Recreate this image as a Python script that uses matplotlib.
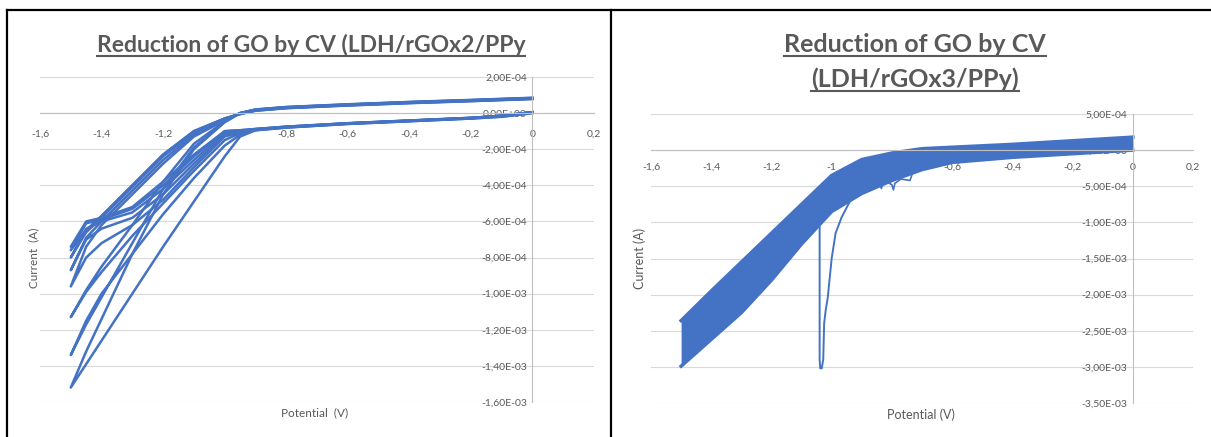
import matplotlib
matplotlib.use("Agg")
import matplotlib.pyplot as plt
import numpy as np
from matplotlib.lines import Line2D
from matplotlib.ticker import FuncFormatter, MultipleLocator

# ---- left chart: LDH/rGOx2/PPy, currents in mA ----
pot_left = [0.0, -0.1, -0.2, -0.4, -0.6, -0.8, -0.9, -0.95, -1.0, -1.1, -1.2, -1.3, -1.4, -1.45, -1.5]

# cathodic sweeps (0 -> -1.5 V), one row per cycle
fwd_left = [
    [0.0, -0.02, -0.03, -0.045, -0.06, -0.08, -0.095, -0.13, -0.24, -0.49, -0.74, -1.00, -1.26, -1.39, -1.52],
    [0.0, -0.02, -0.03, -0.045, -0.06, -0.08, -0.095, -0.12, -0.18, -0.36, -0.56, -0.78, -1.00, -1.15, -1.34],
    [0.005, -0.015, -0.028, -0.043, -0.058, -0.078, -0.093, -0.11, -0.15, -0.32, -0.50, -0.68, -0.88, -0.99, -1.13],
    [0.005, -0.015, -0.028, -0.043, -0.058, -0.078, -0.092, -0.105, -0.13, -0.30, -0.48, -0.62, -0.72, -0.80, -0.96],
    [0.005, -0.015, -0.027, -0.042, -0.057, -0.077, -0.090, -0.10, -0.12, -0.28, -0.45, -0.58, -0.64, -0.70, -0.87],
    [0.005, -0.015, -0.027, -0.042, -0.057, -0.076, -0.089, -0.10, -0.11, -0.26, -0.42, -0.55, -0.60, -0.64, -0.80],
    [0.005, -0.015, -0.026, -0.041, -0.056, -0.075, -0.088, -0.095, -0.10, -0.24, -0.40, -0.53, -0.59, -0.61, -0.76],
    [0.005, -0.015, -0.026, -0.041, -0.056, -0.075, -0.088, -0.095, -0.10, -0.23, -0.38, -0.52, -0.58, -0.60, -0.74],
]
# anodic return sweeps, listed on the same potential grid (0 -> -1.5 V)
rev_left = [
    [0.085, 0.079, 0.073, 0.062, 0.049, 0.034, 0.020, 0.0, -0.05, -0.20, -0.45, -0.78, -1.14, -1.32, -1.52],
    [0.084, 0.078, 0.072, 0.061, 0.048, 0.033, 0.020, 0.0, -0.05, -0.19, -0.42, -0.72, -1.02, -1.17, -1.34],
    [0.083, 0.077, 0.071, 0.060, 0.047, 0.032, 0.018, 0.0, -0.045, -0.17, -0.38, -0.62, -0.85, -0.98, -1.13],
    [0.082, 0.076, 0.070, 0.059, 0.046, 0.031, 0.017, 0.0, -0.04, -0.13, -0.28, -0.45, -0.62, -0.74, -0.96],
    [0.081, 0.075, 0.069, 0.058, 0.045, 0.030, 0.016, -0.002, -0.035, -0.12, -0.26, -0.43, -0.60, -0.69, -0.87],
    [0.080, 0.074, 0.068, 0.057, 0.044, 0.029, 0.015, -0.004, -0.03, -0.11, -0.24, -0.41, -0.58, -0.66, -0.80],
    [0.079, 0.073, 0.067, 0.056, 0.043, 0.028, 0.014, -0.005, -0.03, -0.10, -0.23, -0.40, -0.57, -0.65, -0.76],
    [0.078, 0.072, 0.066, 0.055, 0.042, 0.027, 0.013, -0.006, -0.03, -0.10, -0.23, -0.40, -0.57, -0.65, -0.74],
]

# ---- right chart: LDH/rGOx3/PPy, band of overlapping cycles, mA ----
pot_right = [0.0, -0.2, -0.4, -0.6, -0.7, -0.8, -0.9, -1.0, -1.1, -1.2, -1.3, -1.4, -1.5]
band_upper = [0.18, 0.13, 0.08, 0.04, 0.02, -0.04, -0.13, -0.35, -0.75, -1.15, -1.55, -1.95, -2.36]
band_lower = [0.0, -0.05, -0.10, -0.17, -0.27, -0.42, -0.60, -0.85, -1.30, -1.80, -2.25, -2.62, -2.99]

spike_pot = [-1.04, -1.04, -1.038, -1.033, -1.028, -1.025, -1.02, -1.013, -1.0, -0.987, -0.967, -0.937]
spike_cur = [-1.0, -2.9, -3.02, -3.02, -2.9, -2.4, -2.22, -2.04, -1.5, -1.15, -0.93, -0.69]

dip_pot = [-0.88, -0.85, -0.84, -0.835, -0.83, -0.82, -0.80, -0.795, -0.79, -0.77, -0.74, -0.73, -0.70]
dip_cur = [-0.40, -0.42, -0.47, -0.53, -0.46, -0.43, -0.48, -0.55, -0.46, -0.40, -0.42, -0.30, -0.25]

BLUE = "#4472C4"
GREY = "#595959"
FONT = "Lato"

plt.rcParams["font.family"] = [FONT, "DejaVu Sans"]

fig = plt.figure(figsize=(12.11, 4.37), dpi=100)
W, H = 1211, 437


def px_axes(x0, x1, y_top, y_bot):
    return fig.add_axes([x0 / W, (H - y_bot) / H, (x1 - x0) / W, (y_bot - y_top) / H])


def xfmt(v, pos):
    s = f"{v:.1f}".rstrip("0").rstrip(".")
    if s in ("-0", ""):
        s = "0"
    return s.replace(".", ",")


def yfmt(v, pos):
    if abs(v) < 1e-12:
        v = 0.0
    return f"{v:.2E}".replace(".", ",")


def style(ax, ylo, yhi, ystep, xpad):
    ax.set_xlim(-1.6, 0.2)
    ax.set_ylim(ylo, yhi)
    ax.xaxis.set_major_locator(MultipleLocator(0.2))
    ax.yaxis.set_major_locator(MultipleLocator(ystep))
    ax.xaxis.set_major_formatter(FuncFormatter(xfmt))
    ax.yaxis.set_major_formatter(FuncFormatter(yfmt))
    for side in ("top", "right"):
        ax.spines[side].set_visible(False)
    ax.spines["left"].set_position(("data", 0))
    ax.spines["bottom"].set_position(("data", 0))
    for side in ("left", "bottom"):
        ax.spines[side].set_color("#bfbfbf")
        ax.spines[side].set_linewidth(0.8)
    ax.yaxis.grid(True, color="#d9d9d9", linewidth=0.8)
    ax.set_axisbelow(True)
    ax.tick_params(axis="x", length=0, pad=xpad, labelsize=7.5, labelcolor=GREY)
    ax.tick_params(axis="y", length=0, pad=4, labelsize=7.5, labelcolor=GREY)
    ax.patch.set_alpha(0)


# left
axL = px_axes(40, 594, 77, 402)
style(axL, -1.6e-3, 2.0e-4, 2.0e-4, 12)
for f, r in zip(fwd_left, rev_left):
    v = pot_left + pot_left[::-1]
    i = np.array(f + r[::-1]) / 1000.0
    axL.plot(v, i, color=BLUE, lw=1.8, solid_joinstyle="round")

# right
axR = px_axes(651, 1193, 114, 403)
style(axR, -3.5e-3, 5.0e-4, 5.0e-4, 9)
up = np.array(band_upper) / 1000.0
lo = np.array(band_lower) / 1000.0
axR.fill_between(pot_right, lo, up, color=BLUE, lw=0)
axR.plot(pot_right, up, color=BLUE, lw=2.5)
axR.plot(pot_right, lo, color=BLUE, lw=2.5)
axR.plot(spike_pot, np.array(spike_cur) / 1000.0, color=BLUE, lw=1.4)
axR.plot(dip_pot, np.array(dip_cur) / 1000.0, color=BLUE, lw=1.2)

# axis titles
fig.text(34 / W, 1 - 258 / H, "Current  (A)", rotation=90, ha="center", va="center", fontsize=8.5, color=GREY)
fig.text(315 / W, 1 - 413 / H, "Potential  (V)", ha="center", va="center", fontsize=8.5, color=GREY)
fig.text(640 / W, 1 - 258 / H, "Current (A)", rotation=90, ha="center", va="center", fontsize=9, color=GREY)
fig.text(921 / W, 1 - 415 / H, "Potential (V)", ha="center", va="center", fontsize=9, color=GREY)

# titles, bold and underlined
titles = [
    (311, 52, "Reduction of GO by CV (LDH/rGOx2/PPy", 16.5),
    (915, 52, "Reduction of GO by CV", 18),
    (915, 87, "(LDH/rGOx3/PPy)", 18),
]
title_objs = []
for x, y, s, size in titles:
    t = fig.text(x / W, 1 - y / H, s, ha="center", va="baseline", fontsize=size,
                 fontweight="bold", color=GREY)
    title_objs.append((t, y))

fig.canvas.draw()
for t, y in title_objs:
    bb = t.get_window_extent()
    uy = (H - y - 4) / H
    fig.add_artist(Line2D([bb.x0 / W, bb.x1 / W], [uy, uy], transform=fig.transFigure,
                          color=GREY, lw=1.5))

# frame lines of the screenshot
frame = dict(transform=fig.transFigure, color="black", lw=1.6)
fig.add_artist(Line2D([7 / W, 1], [1 - 10 / H, 1 - 10 / H], **frame))
fig.add_artist(Line2D([7 / W, 7 / W], [0, 1 - 10 / H], **frame))
fig.add_artist(Line2D([611 / W, 611 / W], [0, 1 - 10 / H], **frame))

fig.savefig("out.png", dpi=100)
